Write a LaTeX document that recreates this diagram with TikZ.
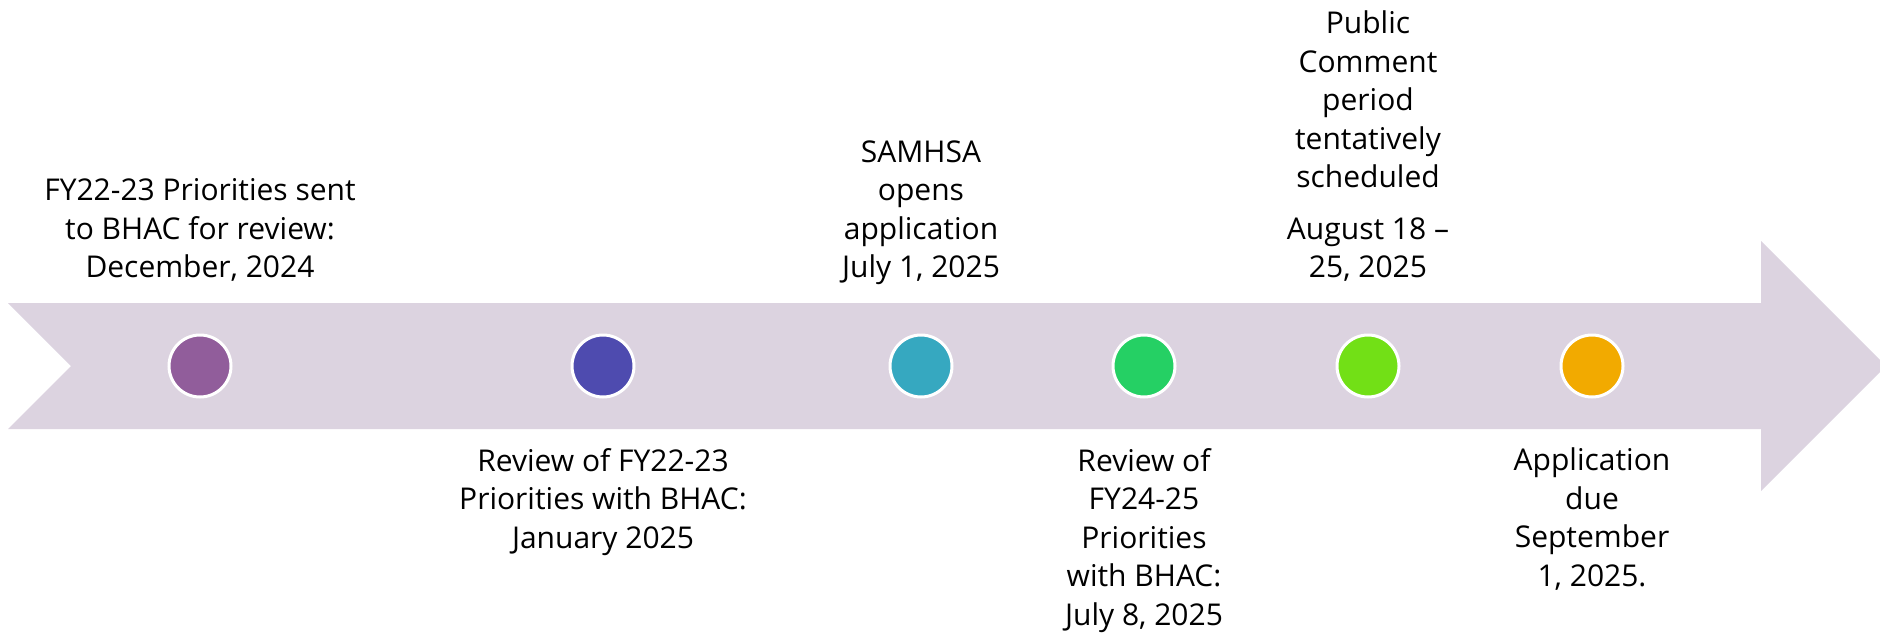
\documentclass[tikz,border=0pt]{standalone}
\usepackage{fontspec}
\setmainfont{Open Sans}

\definecolor{band}{RGB}{220,211,224}
\definecolor{dotpurple}{RGB}{145,93,155}
\definecolor{dotblue}{RGB}{78,75,175}
\definecolor{dotteal}{RGB}{54,168,192}
\definecolor{dotgreen}{RGB}{37,208,100}
\definecolor{dotlime}{RGB}{114,224,22}
\definecolor{dotorange}{RGB}{242,170,0}

\tikzstyle{milestone} = [circle, draw=white, line width=3pt,
  minimum size=62pt, inner sep=0pt]
\tikzstyle{upperlabel} = [anchor=south, align=center, inner sep=0pt,
  font=\fontsize{30pt}{38.5pt}\selectfont, execute at end node=\strut]
\tikzstyle{lowerlabel} = [anchor=north, align=center, inner sep=0pt,
  font=\fontsize{30pt}{38.5pt}\selectfont, execute at begin node=\strut]

\begin{document}
\begin{tikzpicture}[x=1pt, y=-1pt]
        \useasboundingbox (0,0) rectangle (1880,637);
        % the timeline arrow
        \fill[band] (8,303) -- (1761,303) -- (1761,241) -- (1886,366)
          -- (1761,491) -- (1761,429) -- (8,429) -- (71,366) -- cycle;

        \node [milestone, fill=dotpurple] (dec24) at ( 200,366) {};
        \node [milestone, fill=dotblue]   (jan25) at ( 603,366) {};
        \node [milestone, fill=dotteal]   (jul1)  at ( 921,366) {};
        \node [milestone, fill=dotgreen]  (jul8)  at (1144,366) {};
        \node [milestone, fill=dotlime]   (aug18) at (1368,366) {};
        \node [milestone, fill=dotorange] (sep1)  at (1592,366) {};

        \node [upperlabel] (dec24text) at (dec24 |- 0,289.5)
          {FY22-23 Priorities sent\\to BHAC for review:\\December, 2024};
        \node [upperlabel] (jul1text)  at (jul1 |- 0,289.5)
          {SAMHSA\\opens\\application\\July 1, 2025};
        \node [upperlabel] (aug18text) at (aug18 |- 0,289.5)
          {Public\\Comment\\period\\tentatively\\scheduled\\[13pt]August 18 –\\25, 2025};

        \node [lowerlabel] (jan25text) at (jan25 |- 0,448)
          {Review of FY22-23\\Priorities with BHAC:\\January 2025};
        \node [lowerlabel] (jul8text)  at (jul8 |- 0,448)
          {Review of\\FY24-25\\Priorities\\with BHAC:\\July 8, 2025};
        \node [lowerlabel] (sep1text)  at (sep1 |- 0,448)
          {Application\\due\\September\\1, 2025.};
      \end{tikzpicture}
\end{document}
